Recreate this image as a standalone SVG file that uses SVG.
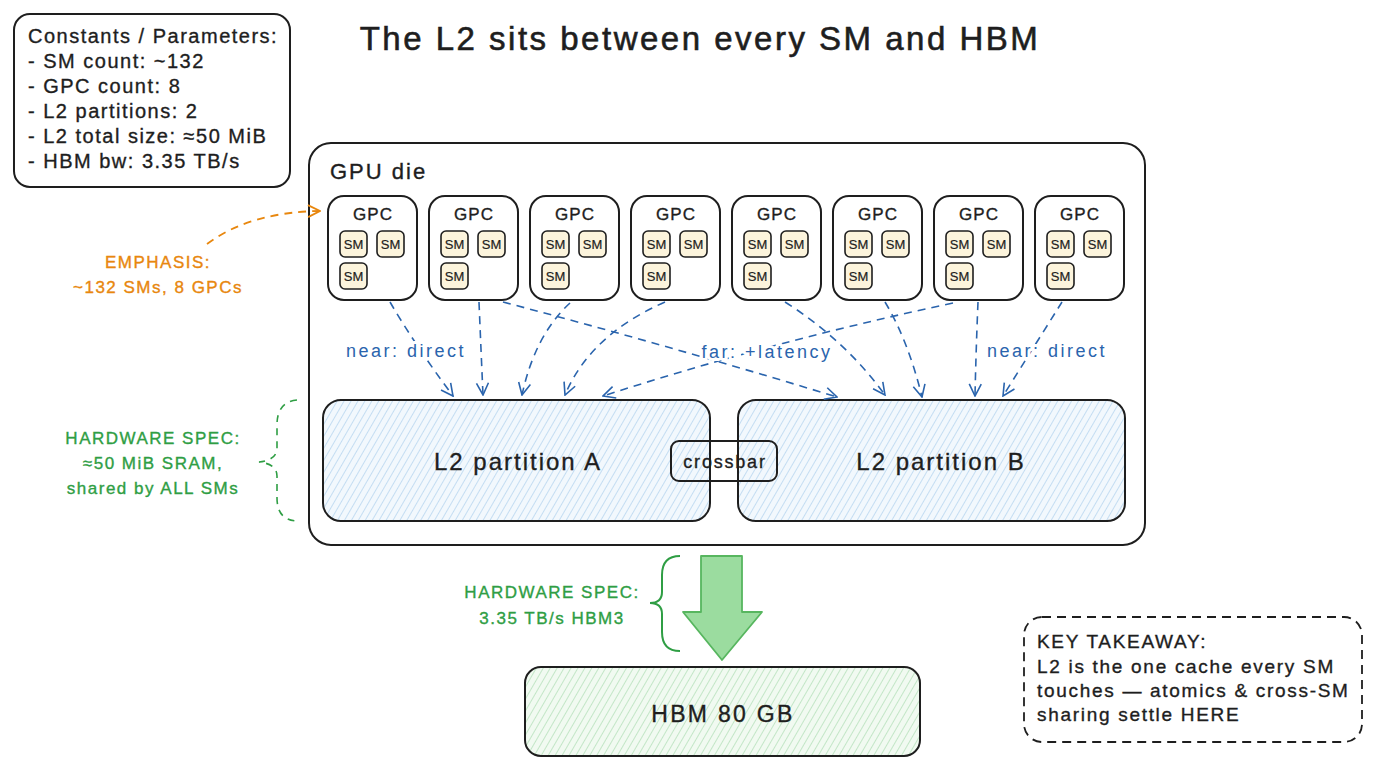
<svg xmlns="http://www.w3.org/2000/svg" width="1376" height="768" viewBox="0 0 1376 768">
<style>
.t{font-family:"Liberation Sans","DejaVu Sans",sans-serif;fill:#1e1e1e;stroke:#1e1e1e;stroke-width:0.35px}
.title{font-size:33px;letter-spacing:2.5px;stroke-width:0.6px}
.cst{font-size:20px;letter-spacing:1.5px}
.gpcl{font-size:17px;letter-spacing:1px}
.sml{font-size:13px;stroke-width:0.2px}
.die{font-size:22px;letter-spacing:2px}
.l2{font-size:24px;letter-spacing:2px}
.xb{font-size:18px;letter-spacing:1.8px}
.hbm{font-size:23px;letter-spacing:2.3px}
.blue{font-size:18px;letter-spacing:2.5px;fill:#2a64ad;stroke:#fff;stroke-width:6px;paint-order:stroke;stroke-linejoin:round}
.green{font-size:17px;letter-spacing:1.5px;fill:#2f9e44;stroke:#2f9e44}
.orange{font-size:17px;letter-spacing:1.5px;fill:#e8870e;stroke:#e8870e}
.key{font-size:19px;letter-spacing:1.7px}
.box{fill:#fff;stroke:#1e1e1e;stroke-width:2}
.gpc{fill:#fff;stroke:#1e1e1e;stroke-width:2}
.sm{fill:#fcf4dc;stroke:#1e1e1e;stroke-width:1.6}
.arr{fill:none;stroke:#2a64ad;stroke-width:1.6;stroke-dasharray:8 6}
</style>
<defs>
<pattern id="hb" width="6" height="6" patternUnits="userSpaceOnUse" patternTransform="rotate(30)">
<rect width="6" height="6" fill="#f2f8fd"/>
<line x1="0" y1="0" x2="0" y2="6" stroke="#9fc7ea" stroke-width="1.1"/>
</pattern>
<pattern id="hg" width="6" height="6" patternUnits="userSpaceOnUse" patternTransform="rotate(30)">
<rect width="6" height="6" fill="#f1faf1"/>
<line x1="0" y1="0" x2="0" y2="6" stroke="#9dd6a4" stroke-width="1.1"/>
</pattern>
<marker id="mb" viewBox="0 0 14 14" refX="13" refY="7" markerWidth="14" markerHeight="14" markerUnits="userSpaceOnUse" orient="auto">
<path d="M1,1 L13,7 L1,13" fill="none" stroke="#2a64ad" stroke-width="1.6"/>
</marker>
<marker id="mo" viewBox="0 0 14 14" refX="13" refY="7" markerWidth="14" markerHeight="14" markerUnits="userSpaceOnUse" orient="auto">
<path d="M1,1 L13,7 L1,13" fill="none" stroke="#e8870e" stroke-width="1.8"/>
</marker>
</defs>
<rect width="1376" height="768" fill="#fff"/>

<text class="t title" x="700" y="50" text-anchor="middle">The L2 sits between every SM and HBM</text>

<g id="constants">
<rect class="box" x="14" y="14" width="276" height="173" rx="16"/>
<text class="t cst" x="28" y="43">Constants / Parameters:</text>
<text class="t cst" x="28" y="68">- SM count: ~132</text>
<text class="t cst" x="28" y="93">- GPC count: 8</text>
<text class="t cst" x="28" y="118">- L2 partitions: 2</text>
<text class="t cst" x="28" y="143">- L2 total size: ≈50 MiB</text>
<text class="t cst" x="28" y="168">- HBM bw: 3.35 TB/s</text>
</g>

<g id="gpu-die">
<rect class="box" x="309" y="143" width="836" height="402" rx="22"/>
<text class="t die" x="330" y="179">GPU die</text>
</g>

<g id="gpc1"><rect class="gpc" x="328" y="196" width="89" height="104" rx="16"/><text class="t gpcl" x="373" y="220" text-anchor="middle">GPC</text>
<rect class="sm" x="340" y="231" width="27" height="26" rx="5"/><text class="t sml" x="353.5" y="249" text-anchor="middle">SM</text>
<rect class="sm" x="377" y="231" width="27" height="26" rx="5"/><text class="t sml" x="390.5" y="249" text-anchor="middle">SM</text>
<rect class="sm" x="340" y="263" width="27" height="26" rx="5"/><text class="t sml" x="353.5" y="281" text-anchor="middle">SM</text></g>
<g id="gpc2"><rect class="gpc" x="429" y="196" width="89" height="104" rx="16"/><text class="t gpcl" x="474" y="220" text-anchor="middle">GPC</text>
<rect class="sm" x="441" y="231" width="27" height="26" rx="5"/><text class="t sml" x="454.5" y="249" text-anchor="middle">SM</text>
<rect class="sm" x="478" y="231" width="27" height="26" rx="5"/><text class="t sml" x="491.5" y="249" text-anchor="middle">SM</text>
<rect class="sm" x="441" y="263" width="27" height="26" rx="5"/><text class="t sml" x="454.5" y="281" text-anchor="middle">SM</text></g>
<g id="gpc3"><rect class="gpc" x="530" y="196" width="89" height="104" rx="16"/><text class="t gpcl" x="575" y="220" text-anchor="middle">GPC</text>
<rect class="sm" x="542" y="231" width="27" height="26" rx="5"/><text class="t sml" x="555.5" y="249" text-anchor="middle">SM</text>
<rect class="sm" x="579" y="231" width="27" height="26" rx="5"/><text class="t sml" x="592.5" y="249" text-anchor="middle">SM</text>
<rect class="sm" x="542" y="263" width="27" height="26" rx="5"/><text class="t sml" x="555.5" y="281" text-anchor="middle">SM</text></g>
<g id="gpc4"><rect class="gpc" x="631" y="196" width="89" height="104" rx="16"/><text class="t gpcl" x="676" y="220" text-anchor="middle">GPC</text>
<rect class="sm" x="643" y="231" width="27" height="26" rx="5"/><text class="t sml" x="656.5" y="249" text-anchor="middle">SM</text>
<rect class="sm" x="680" y="231" width="27" height="26" rx="5"/><text class="t sml" x="693.5" y="249" text-anchor="middle">SM</text>
<rect class="sm" x="643" y="263" width="27" height="26" rx="5"/><text class="t sml" x="656.5" y="281" text-anchor="middle">SM</text></g>
<g id="gpc5"><rect class="gpc" x="732" y="196" width="89" height="104" rx="16"/><text class="t gpcl" x="777" y="220" text-anchor="middle">GPC</text>
<rect class="sm" x="744" y="231" width="27" height="26" rx="5"/><text class="t sml" x="757.5" y="249" text-anchor="middle">SM</text>
<rect class="sm" x="781" y="231" width="27" height="26" rx="5"/><text class="t sml" x="794.5" y="249" text-anchor="middle">SM</text>
<rect class="sm" x="744" y="263" width="27" height="26" rx="5"/><text class="t sml" x="757.5" y="281" text-anchor="middle">SM</text></g>
<g id="gpc6"><rect class="gpc" x="833" y="196" width="89" height="104" rx="16"/><text class="t gpcl" x="878" y="220" text-anchor="middle">GPC</text>
<rect class="sm" x="845" y="231" width="27" height="26" rx="5"/><text class="t sml" x="858.5" y="249" text-anchor="middle">SM</text>
<rect class="sm" x="882" y="231" width="27" height="26" rx="5"/><text class="t sml" x="895.5" y="249" text-anchor="middle">SM</text>
<rect class="sm" x="845" y="263" width="27" height="26" rx="5"/><text class="t sml" x="858.5" y="281" text-anchor="middle">SM</text></g>
<g id="gpc7"><rect class="gpc" x="934" y="196" width="89" height="104" rx="16"/><text class="t gpcl" x="979" y="220" text-anchor="middle">GPC</text>
<rect class="sm" x="946" y="231" width="27" height="26" rx="5"/><text class="t sml" x="959.5" y="249" text-anchor="middle">SM</text>
<rect class="sm" x="983" y="231" width="27" height="26" rx="5"/><text class="t sml" x="996.5" y="249" text-anchor="middle">SM</text>
<rect class="sm" x="946" y="263" width="27" height="26" rx="5"/><text class="t sml" x="959.5" y="281" text-anchor="middle">SM</text></g>
<g id="gpc8"><rect class="gpc" x="1035" y="196" width="89" height="104" rx="16"/><text class="t gpcl" x="1080" y="220" text-anchor="middle">GPC</text>
<rect class="sm" x="1047" y="231" width="27" height="26" rx="5"/><text class="t sml" x="1060.5" y="249" text-anchor="middle">SM</text>
<rect class="sm" x="1084" y="231" width="27" height="26" rx="5"/><text class="t sml" x="1097.5" y="249" text-anchor="middle">SM</text>
<rect class="sm" x="1047" y="263" width="27" height="26" rx="5"/><text class="t sml" x="1060.5" y="281" text-anchor="middle">SM</text></g>

<g id="l2a">
<rect x="323" y="400" width="387" height="121" rx="18" fill="url(#hb)" stroke="#1e1e1e" stroke-width="2"/>
<text class="t l2" x="518" y="470" text-anchor="middle">L2 partition A</text>
</g>
<g id="l2b">
<rect x="738" y="400" width="387" height="121" rx="18" fill="url(#hb)" stroke="#1e1e1e" stroke-width="2"/>
<text class="t l2" x="941" y="470" text-anchor="middle">L2 partition B</text>
</g>
<g id="crossbar">
<rect x="671" y="441" width="106" height="40" rx="8" fill="none" stroke="#1e1e1e" stroke-width="2"/>
<text class="t xb" x="725" y="468" text-anchor="middle">crossbar</text>
</g>

<g id="hbm">
<rect x="525" y="667" width="395" height="89" rx="16" fill="url(#hg)" stroke="#1e1e1e" stroke-width="2"/>
<text class="t hbm" x="723" y="722" text-anchor="middle">HBM 80 GB</text>
</g>

<g id="connectors">
<path class="arr" d="M390,302 Q415,345 453,396" marker-end="url(#mb)"/>
<path class="arr" d="M479,302 Q481,350 483,395" marker-end="url(#mb)"/>
<path class="arr" d="M570,303 Q535,335 522,395" marker-end="url(#mb)"/>
<path class="arr" d="M665,302 Q590,335 565,395" marker-end="url(#mb)"/>
<path class="arr" d="M503,302 Q670,346 837,397" marker-end="url(#mb)"/>
<path class="arr" d="M953,303 Q770,342 603,396" marker-end="url(#mb)"/>
<path class="arr" d="M785,302 Q845,340 885,395" marker-end="url(#mb)"/>
<path class="arr" d="M885,302 Q908,340 922,397" marker-end="url(#mb)"/>
<path class="arr" d="M978,302 Q976,350 975,396" marker-end="url(#mb)"/>
<path class="arr" d="M1062,302 Q1035,345 1003,396" marker-end="url(#mb)"/>
<path d="M207,244 Q250,212 320,211" fill="none" stroke="#e8870e" stroke-width="1.8" stroke-dasharray="8 6" marker-end="url(#mo)"/>
<polygon points="701,556 742,556 742,612 762,612 722,660 683,612 701,612" fill="#9bdc9f" stroke="#57b65f" stroke-width="1.8" stroke-linejoin="round"/>
</g>

<g id="arrow-labels">
<text class="t blue" x="406" y="357" text-anchor="middle">near: direct</text>
<text class="t blue" x="767" y="358" text-anchor="middle">far: +latency</text>
<text class="t blue" x="1047" y="357" text-anchor="middle">near: direct</text>
</g>

<g id="emphasis">
<text class="t orange" x="158" y="268" text-anchor="middle">EMPHASIS:</text>
<text class="t orange" x="158" y="293" text-anchor="middle">~132 SMs, 8 GPCs</text>
</g>

<g id="l2-spec">
<path d="M297,400 Q277,402 277,425 L277,448 Q277,460 259,462 Q277,464 277,476 L277,498 Q277,520 297,521" fill="none" stroke="#2f9e44" stroke-width="1.6" stroke-dasharray="7 6"/>
<text class="t green" x="153" y="444" text-anchor="middle">HARDWARE SPEC:</text>
<text class="t green" x="153" y="469" text-anchor="middle">≈50 MiB SRAM,</text>
<text class="t green" x="153" y="494" text-anchor="middle">shared by ALL SMs</text>
</g>

<g id="hbm-spec">
<path d="M680,556 Q662,556 662,575 L662,592 Q662,603 650,603 Q662,603 662,614 L662,632 Q662,651 680,651" fill="none" stroke="#2f9e44" stroke-width="2"/>
<text class="t green" x="552" y="598" text-anchor="middle">HARDWARE SPEC:</text>
<text class="t green" x="552" y="624" text-anchor="middle">3.35 TB/s HBM3</text>
</g>

<g id="takeaway">
<rect x="1024" y="617" width="338" height="125" rx="18" fill="none" stroke="#1e1e1e" stroke-width="1.8" stroke-dasharray="9 6"/>
<text class="t key" x="1037" y="648">KEY TAKEAWAY:</text>
<text class="t key" x="1037" y="673">L2 is the one cache every SM</text>
<text class="t key" x="1037" y="697">touches — atomics &amp; cross-SM</text>
<text class="t key" x="1037" y="721">sharing settle HERE</text>
</g>
</svg>
